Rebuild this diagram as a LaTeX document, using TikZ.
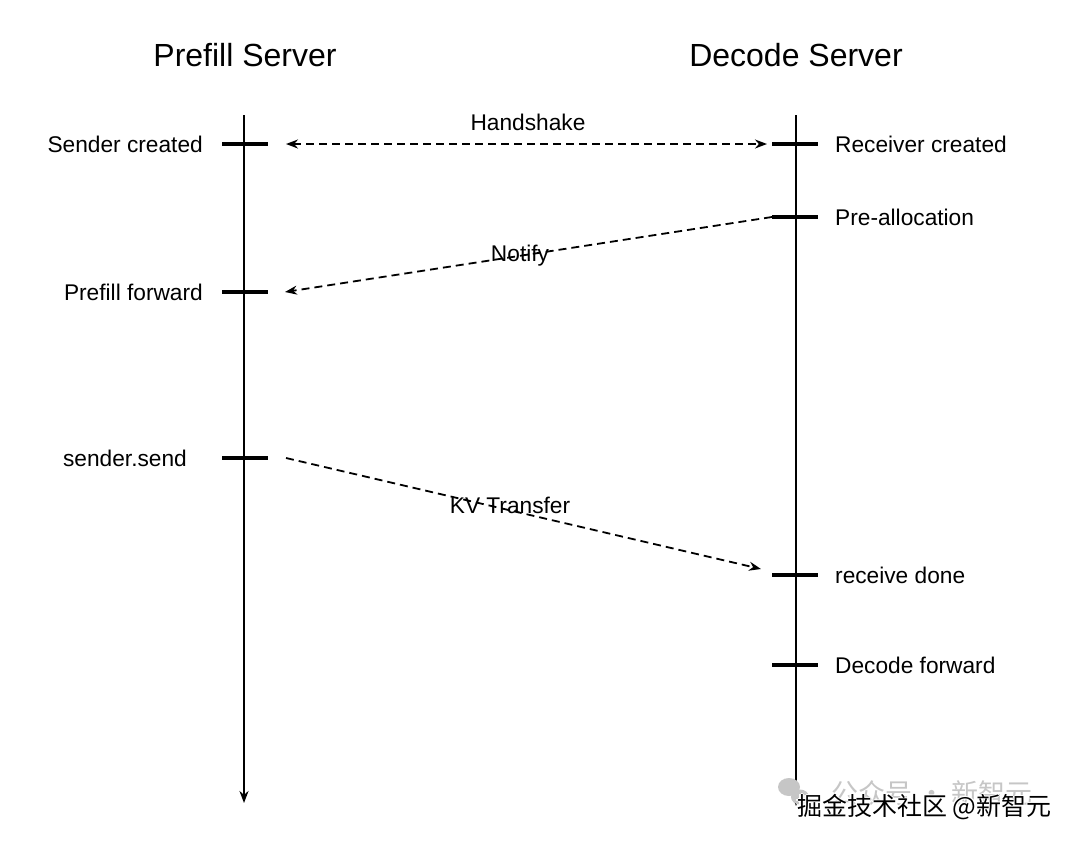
\documentclass[tikz,border=0pt]{standalone}
\usepackage{fontspec}
\setmainfont{Liberation Sans}
\newfontfamily\cjk{Noto Sans CJK SC}
\usetikzlibrary{arrows.meta}
\begin{document}
\begin{tikzpicture}[x=1pt,y=-1pt,
  tickbar/.style={draw=none,fill=black,minimum width=46pt,minimum height=3.6pt,inner sep=0pt,outer sep=0pt},
  lbl/.style={font=\fontsize{22.7}{27}\selectfont,inner sep=0pt},
  ttl/.style={font=\fontsize{32}{38}\selectfont,inner sep=0pt},
  tip/.style={-{Stealth[length=12pt,width=9pt]}},
  msg/.style={dash pattern=on 8pt off 5pt,line width=1.8pt,tip},
  life/.style={line width=2pt,tip},
  wm/.style={font=\cjk\fontsize{25}{30}\selectfont,inner sep=0pt,anchor=west}]
\useasboundingbox (0,0) rectangle (1080,844);
\fill[white] (0,0) rectangle (1080,844);

% titles
\node[ttl,anchor=base] (pt) at (245,66) {Prefill Server};
\node[ttl,anchor=base] (dt) at (796,66) {Decode Server};

% lifelines
\coordinate (lt) at (244,115);
\coordinate (lb) at (244,803);
\coordinate (rt) at (796,115);
\coordinate (rb) at (796,806);
\draw[life] (lt) -- (lb);
\draw[life] (rt) -- (rb);

% ticks
\node[tickbar] (t1) at (245,144) {};
\node[tickbar] (t2) at (245,292) {};
\node[tickbar] (t3) at (245,458) {};
\node[tickbar] (r1) at (795,144) {};
\node[tickbar] (r2) at (795,217) {};
\node[tickbar] (r3) at (795,575) {};
\node[tickbar] (r4) at (795,665) {};

% event labels
\node[lbl,anchor=base east] (l1) at (203,152) {Sender created};
\node[lbl,anchor=base east] (l2) at (203,300) {Prefill forward};
\node[lbl,anchor=base east] (l3) at (187,466) {sender.send};
\node[lbl,anchor=base west] (q1) at (835,152) {Receiver created};
\node[lbl,anchor=base west] (q2) at (835,225) {Pre-allocation};
\node[lbl,anchor=base west] (q3) at (835,583) {receive done};
\node[lbl,anchor=base west] (q4) at (835,673) {Decode forward};

% messages
\draw[msg,{Stealth[length=12pt,width=9pt]}-{Stealth[length=12pt,width=9pt]}] ([xshift=18pt]t1.east) -- ([xshift=-5pt]r1.west);
\node[lbl] (m1) at (528,122) {Handshake};
\draw[msg] (r2.west) -- ([xshift=17pt]t2.east);
\node[lbl] (m2) at (520,256) {Notify};
\draw[msg] ([xshift=18pt]t3.east) -- ([shift={(-11,-6)}]r3.west);
\node[lbl] (m3) at (510,505) {KV Transfer};

% watermark
\fill[gray!45] (789,787) ellipse (11pt and 9pt);
\fill[gray!45] (800,797) ellipse (9pt and 7.5pt);
\node[wm,text=gray!45,font=\cjk\fontsize{27}{32}\selectfont] (w1) at (831,793) {公众号\ ·\ 新智元};
\foreach \dx/\dy in {-1.3/0,1.3/0,0/-1.3,0/1.3}
  \node[wm,text=white] at (797+\dx,807+\dy) {掘金技术社区 @新智元};
\node[wm,text=black] (w2) at (797,807) {掘金技术社区 @新智元};
\end{tikzpicture}
\end{document}
